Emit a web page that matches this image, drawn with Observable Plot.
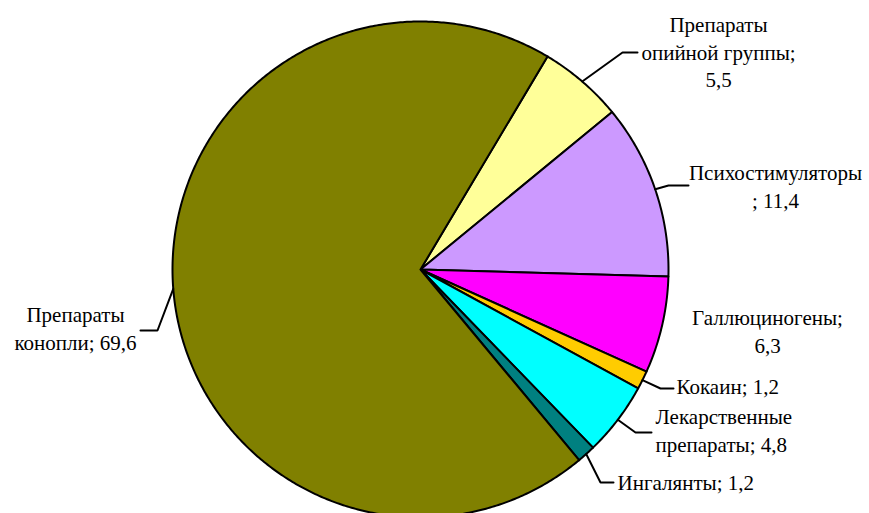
<!DOCTYPE html>
<html>
<head>
<meta charset="utf-8">
<script src="https://cdn.jsdelivr.net/npm/d3@7"></script>
<script src="https://cdn.jsdelivr.net/npm/@observablehq/plot@0.6"></script>
<style>
  html, body { margin: 0; padding: 0; background: #ffffff; }
  #chart svg { display: block; }
</style>
</head>
<body>
<div id="chart"></div>
<script>
// ---- data (clockwise from the top-right slice) ----
const categories = ["Препараты опийной группы", "Психостимуляторы", "Галлюциногены", "Кокаин", "Лекарственные препараты", "Ингалянты", "Препараты конопли"];
const values = [5.5, 11.4, 6.3, 1.2, 4.8, 1.2, 69.6];
const colors = ["#FFFF99", "#CC99FF", "#FF00FF", "#FFCC00", "#00FFFF", "#008080", "#808000"];
// label text as wrapped in the original ({v} = value)
const labelLines = [
  ["Препараты", "опийной группы;", "{v}"],
  ["Психостимуляторы", "; {v}"],
  ["Галлюциногены;", "{v}"],
  ["Кокаин; {v}"],
  ["Лекарственные", "препараты; {v}"],
  ["Ингалянты; {v}"],
  ["Препараты", "конопли; {v}"]
];

// ---- layout (pixels) ----
const W = 869, H = 513;
const CX = 420, CY = 269, R = 248;
const startDeg = 30.8;
const lineH = 27.5;
const layout = [
  {x: 718, y: 25,  anchor: "middle", elbow: [622, 52],  end: [637, 52]},
  {x: 775, y: 173, anchor: "middle", elbow: [668, 185], end: [688, 185]},
  {x: 767, y: 318, anchor: "middle", elbow: null,       end: null},
  {x: 676, y: 387, anchor: "start",  elbow: [660, 388], end: [673, 388]},
  {x: 655, y: 417, anchor: "start",  elbow: [635, 432], end: [651, 432]},
  {x: 617, y: 483, anchor: "start",  elbow: [600, 482], end: [613, 482]},
  {x: 75,  y: 315, anchor: "middle", elbow: [157, 330], end: [140, 330]}
];

const px = v => (v - CX) / R;
const py = v => (CY - v) / R;
const fmt = v => v.toFixed(1).replace(".", ",");

const a0 = startDeg * Math.PI / 180;
const arcs = d3.pie().sort(null).startAngle(a0).endAngle(a0 + 2 * Math.PI)(values);

// slice polygons in unit-radius coordinates
const slicePts = [];
arcs.forEach((a, i) => {
  const n = Math.max(2, Math.ceil((a.endAngle - a.startAngle) / (Math.PI / 360)));
  slicePts.push({cat: categories[i], x: 0, y: 0});
  for (let k = 0; k <= n; k++) {
    const t = a.startAngle + (a.endAngle - a.startAngle) * k / n;
    slicePts.push({cat: categories[i], x: Math.sin(t), y: Math.cos(t)});
  }
  slicePts.push({cat: categories[i], x: 0, y: 0});
});

// leader lines: from slice mid-angle on the rim, to elbow, to end
const leaderPts = [];
arcs.forEach((a, i) => {
  const L = layout[i];
  if (!L.elbow) return;
  const m = (a.startAngle + a.endAngle) / 2;
  leaderPts.push({cat: categories[i], x: Math.sin(m), y: Math.cos(m)});
  leaderPts.push({cat: categories[i], x: px(L.elbow[0]), y: py(L.elbow[1])});
  leaderPts.push({cat: categories[i], x: px(L.end[0]), y: py(L.end[1])});
});

// text lines
const textRows = [];
labelLines.forEach((lines, i) => {
  const L = layout[i];
  lines.forEach((s, j) => {
    textRows.push({
      text: s.replace("{v}", fmt(values[i])),
      x: px(L.x),
      y: py(L.y + j * lineH),
      anchor: L.anchor
    });
  });
});

const chart = Plot.plot({
  width: W,
  height: H,
  margin: 0,
  x: {domain: [px(0), px(W)], axis: null},
  y: {domain: [py(H), py(0)], axis: null},
  color: {domain: categories, range: colors},
  style: {background: "#ffffff"},
  marks: [
    Plot.line(slicePts, {x: "x", y: "y", z: "cat", fill: "cat", stroke: "#000000", strokeWidth: 2, strokeLinejoin: "round"}),
    Plot.line(leaderPts, {x: "x", y: "y", z: "cat", stroke: "#000000", strokeWidth: 2, strokeLinejoin: "miter"}),
    Plot.text(textRows.filter(d => d.anchor === "middle"), {x: "x", y: "y", text: "text", textAnchor: "middle", fontSize: 21, fill: "#000000", fontFamily: "Liberation Serif"}),
    Plot.text(textRows.filter(d => d.anchor === "start"), {x: "x", y: "y", text: "text", textAnchor: "start", fontSize: 21, fill: "#000000", fontFamily: "Liberation Serif"})
  ]
});
document.getElementById("chart").appendChild(chart);
</script>
</body>
</html>
